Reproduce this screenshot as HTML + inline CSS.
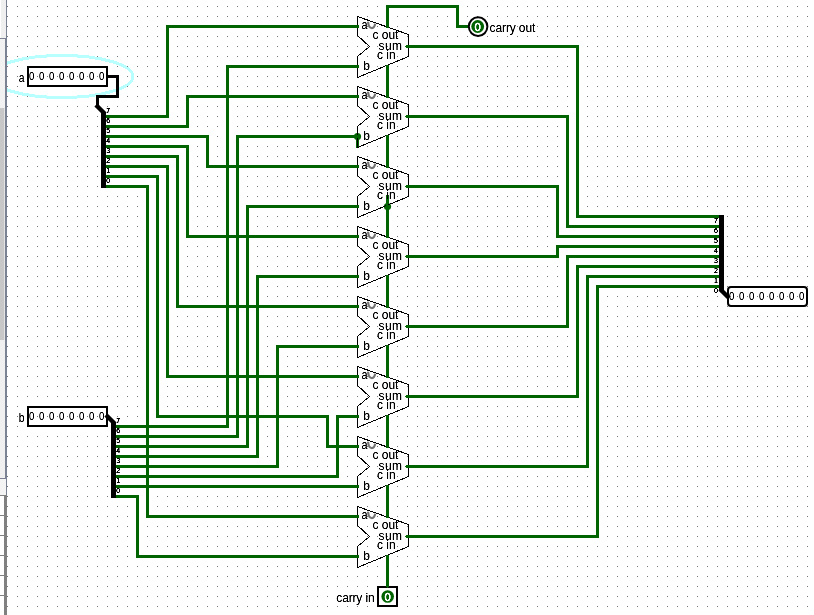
<!DOCTYPE html>
<html><head><meta charset="utf-8"><title>8-bit adder</title>
<style>html,body{margin:0;padding:0;background:#fff;}body{width:814px;height:615px;overflow:hidden;}svg{display:block;}text{font-family:"Liberation Sans",sans-serif;font-size:12px;fill:#000;}.s{font-size:7px;}.d{font-size:11.5px;}.w{font-size:11.5px;stroke:#fff;stroke-width:0.35px;}</style></head><body>
<svg width="814" height="615" viewBox="0 0 814 615">
<defs><pattern id="grid" x="0" y="0" width="10" height="10" patternUnits="userSpaceOnUse"><rect x="7" y="6" width="1" height="1" fill="#767676"/></pattern><filter id="tf" x="0" y="0" width="814" height="615" filterUnits="userSpaceOnUse" color-interpolation-filters="sRGB"><feComponentTransfer><feFuncA type="linear" slope="1.45" intercept="-0.1"/></feComponentTransfer></filter><filter id="ts" x="0" y="0" width="814" height="615" filterUnits="userSpaceOnUse" color-interpolation-filters="sRGB"><feComponentTransfer><feFuncA type="linear" slope="3" intercept="-0.3"/></feComponentTransfer></filter><clipPath id="cv"><rect x="7" y="0" width="807" height="615"/></clipPath></defs>
<rect width="814" height="615" fill="#fff"/>
<rect x="7" y="0" width="807" height="615" fill="url(#grid)" shape-rendering="crispEdges"/>
<g clip-path="url(#cv)"><ellipse cx="62" cy="76.5" rx="71" ry="21" fill="none" stroke="#b8ffff" stroke-width="3" shape-rendering="crispEdges"/></g>
<g shape-rendering="crispEdges">
<polyline points="107.5,116.5 167.5,116.5 167.5,26.5 357.5,26.5" fill="none" stroke="#006400" stroke-width="3" stroke-linecap="square" stroke-linejoin="miter"/>
<polyline points="107.5,126.5 187.5,126.5 187.5,96.5 357.5,96.5" fill="none" stroke="#006400" stroke-width="3" stroke-linecap="square" stroke-linejoin="miter"/>
<polyline points="107.5,136.5 207.5,136.5 207.5,166.5 357.5,166.5" fill="none" stroke="#006400" stroke-width="3" stroke-linecap="square" stroke-linejoin="miter"/>
<polyline points="107.5,146.5 187.5,146.5 187.5,236.5 357.5,236.5" fill="none" stroke="#006400" stroke-width="3" stroke-linecap="square" stroke-linejoin="miter"/>
<polyline points="107.5,156.5 177.5,156.5 177.5,306.5 357.5,306.5" fill="none" stroke="#006400" stroke-width="3" stroke-linecap="square" stroke-linejoin="miter"/>
<polyline points="107.5,166.5 167.5,166.5 167.5,376.5 357.5,376.5" fill="none" stroke="#006400" stroke-width="3" stroke-linecap="square" stroke-linejoin="miter"/>
<polyline points="107.5,176.5 157.5,176.5 157.5,416.5 327.5,416.5 327.5,446.5 357.5,446.5" fill="none" stroke="#006400" stroke-width="3" stroke-linecap="square" stroke-linejoin="miter"/>
<polyline points="107.5,186.5 147.5,186.5 147.5,516.5 357.5,516.5" fill="none" stroke="#006400" stroke-width="3" stroke-linecap="square" stroke-linejoin="miter"/>
<polyline points="117.5,426.5 227.5,426.5 227.5,66.5 357.5,66.5" fill="none" stroke="#006400" stroke-width="3" stroke-linecap="square" stroke-linejoin="miter"/>
<polyline points="117.5,436.5 237.5,436.5 237.5,136.5 357.5,136.5 357.5,146.5" fill="none" stroke="#006400" stroke-width="3" stroke-linecap="square" stroke-linejoin="miter"/>
<polyline points="117.5,446.5 247.5,446.5 247.5,206.5 357.5,206.5" fill="none" stroke="#006400" stroke-width="3" stroke-linecap="square" stroke-linejoin="miter"/>
<polyline points="117.5,456.5 257.5,456.5 257.5,276.5 357.5,276.5" fill="none" stroke="#006400" stroke-width="3" stroke-linecap="square" stroke-linejoin="miter"/>
<polyline points="117.5,466.5 277.5,466.5 277.5,346.5 357.5,346.5" fill="none" stroke="#006400" stroke-width="3" stroke-linecap="square" stroke-linejoin="miter"/>
<polyline points="117.5,476.5 337.5,476.5 337.5,416.5 357.5,416.5" fill="none" stroke="#006400" stroke-width="3" stroke-linecap="square" stroke-linejoin="miter"/>
<polyline points="117.5,486.5 357.5,486.5" fill="none" stroke="#006400" stroke-width="3" stroke-linecap="square" stroke-linejoin="miter"/>
<polyline points="117.5,496.5 137.5,496.5 137.5,556.5 357.5,556.5" fill="none" stroke="#006400" stroke-width="3" stroke-linecap="square" stroke-linejoin="miter"/>
<polyline points="387.5,26.5 387.5,6.5 457.5,6.5 457.5,26.5 467.5,26.5" fill="none" stroke="#006400" stroke-width="3" stroke-linecap="square" stroke-linejoin="miter"/>
<polyline points="387.5,196.5 387.5,206.5" fill="none" stroke="#006400" stroke-width="3" stroke-linecap="square" stroke-linejoin="miter"/>
<polyline points="387.5,556.5 387.5,586.5" fill="none" stroke="#006400" stroke-width="3" stroke-linecap="square" stroke-linejoin="miter"/>
<polyline points="407.5,46.5 577.5,46.5 577.5,216.5 717.5,216.5" fill="none" stroke="#006400" stroke-width="3" stroke-linecap="square" stroke-linejoin="miter"/>
<polyline points="407.5,116.5 567.5,116.5 567.5,226.5 717.5,226.5" fill="none" stroke="#006400" stroke-width="3" stroke-linecap="square" stroke-linejoin="miter"/>
<polyline points="407.5,186.5 557.5,186.5 557.5,236.5 717.5,236.5" fill="none" stroke="#006400" stroke-width="3" stroke-linecap="square" stroke-linejoin="miter"/>
<polyline points="407.5,256.5 557.5,256.5 557.5,246.5 717.5,246.5" fill="none" stroke="#006400" stroke-width="3" stroke-linecap="square" stroke-linejoin="miter"/>
<polyline points="407.5,326.5 567.5,326.5 567.5,256.5 717.5,256.5" fill="none" stroke="#006400" stroke-width="3" stroke-linecap="square" stroke-linejoin="miter"/>
<polyline points="407.5,396.5 577.5,396.5 577.5,266.5 717.5,266.5" fill="none" stroke="#006400" stroke-width="3" stroke-linecap="square" stroke-linejoin="miter"/>
<polyline points="407.5,466.5 587.5,466.5 587.5,276.5 717.5,276.5" fill="none" stroke="#006400" stroke-width="3" stroke-linecap="square" stroke-linejoin="miter"/>
<polyline points="407.5,536.5 597.5,536.5 597.5,286.5 717.5,286.5" fill="none" stroke="#006400" stroke-width="3" stroke-linecap="square" stroke-linejoin="miter"/>
<polyline points="387.5,66.5 387.5,96.5" fill="none" stroke="#006400" stroke-width="3" stroke-linecap="square" stroke-linejoin="miter"/>
<polyline points="387.5,136.5 387.5,166.5" fill="none" stroke="#006400" stroke-width="3" stroke-linecap="square" stroke-linejoin="miter"/>
<polyline points="387.5,206.5 387.5,236.5" fill="none" stroke="#006400" stroke-width="3" stroke-linecap="square" stroke-linejoin="miter"/>
<polyline points="387.5,276.5 387.5,306.5" fill="none" stroke="#006400" stroke-width="3" stroke-linecap="square" stroke-linejoin="miter"/>
<polyline points="387.5,346.5 387.5,376.5" fill="none" stroke="#006400" stroke-width="3" stroke-linecap="square" stroke-linejoin="miter"/>
<polyline points="387.5,416.5 387.5,446.5" fill="none" stroke="#006400" stroke-width="3" stroke-linecap="square" stroke-linejoin="miter"/>
<polyline points="387.5,486.5 387.5,516.5" fill="none" stroke="#006400" stroke-width="3" stroke-linecap="square" stroke-linejoin="miter"/>
<polyline points="107.5,76.5 117.5,76.5 117.5,96.5 97.5,96.5 97.5,106.5" fill="none" stroke="#000" stroke-width="3" stroke-linecap="square" stroke-linejoin="miter"/>
</g>
<circle cx="357.5" cy="136.5" r="3.6" fill="#006400"/>
<circle cx="387.5" cy="206.5" r="3.6" fill="#006400"/>
<g shape-rendering="crispEdges">
<polyline points="107.5,116.5 103.5,116.5" fill="none" stroke="#006400" stroke-width="3" stroke-linecap="butt" stroke-linejoin="miter"/>
<polyline points="107.5,126.5 103.5,126.5" fill="none" stroke="#006400" stroke-width="3" stroke-linecap="butt" stroke-linejoin="miter"/>
<polyline points="107.5,136.5 103.5,136.5" fill="none" stroke="#006400" stroke-width="3" stroke-linecap="butt" stroke-linejoin="miter"/>
<polyline points="107.5,146.5 103.5,146.5" fill="none" stroke="#006400" stroke-width="3" stroke-linecap="butt" stroke-linejoin="miter"/>
<polyline points="107.5,156.5 103.5,156.5" fill="none" stroke="#006400" stroke-width="3" stroke-linecap="butt" stroke-linejoin="miter"/>
<polyline points="107.5,166.5 103.5,166.5" fill="none" stroke="#006400" stroke-width="3" stroke-linecap="butt" stroke-linejoin="miter"/>
<polyline points="107.5,176.5 103.5,176.5" fill="none" stroke="#006400" stroke-width="3" stroke-linecap="butt" stroke-linejoin="miter"/>
<polyline points="107.5,186.5 103.5,186.5" fill="none" stroke="#006400" stroke-width="3" stroke-linecap="butt" stroke-linejoin="miter"/>
</g>
<line x1="97.5" y1="106.5" x2="103.5" y2="112.5" stroke="#000" stroke-width="4.4" stroke-linecap="square"/>
<rect x="101" y="112" width="5" height="76" fill="#000" shape-rendering="crispEdges"/>
<g shape-rendering="crispEdges">
<polyline points="117.5,426.5 113.5,426.5" fill="none" stroke="#006400" stroke-width="3" stroke-linecap="butt" stroke-linejoin="miter"/>
<polyline points="117.5,436.5 113.5,436.5" fill="none" stroke="#006400" stroke-width="3" stroke-linecap="butt" stroke-linejoin="miter"/>
<polyline points="117.5,446.5 113.5,446.5" fill="none" stroke="#006400" stroke-width="3" stroke-linecap="butt" stroke-linejoin="miter"/>
<polyline points="117.5,456.5 113.5,456.5" fill="none" stroke="#006400" stroke-width="3" stroke-linecap="butt" stroke-linejoin="miter"/>
<polyline points="117.5,466.5 113.5,466.5" fill="none" stroke="#006400" stroke-width="3" stroke-linecap="butt" stroke-linejoin="miter"/>
<polyline points="117.5,476.5 113.5,476.5" fill="none" stroke="#006400" stroke-width="3" stroke-linecap="butt" stroke-linejoin="miter"/>
<polyline points="117.5,486.5 113.5,486.5" fill="none" stroke="#006400" stroke-width="3" stroke-linecap="butt" stroke-linejoin="miter"/>
<polyline points="117.5,496.5 113.5,496.5" fill="none" stroke="#006400" stroke-width="3" stroke-linecap="butt" stroke-linejoin="miter"/>
</g>
<line x1="107.5" y1="416.5" x2="113.5" y2="422.5" stroke="#000" stroke-width="4.4" stroke-linecap="square"/>
<rect x="111" y="422" width="5" height="76" fill="#000" shape-rendering="crispEdges"/>
<g shape-rendering="crispEdges">
<polyline points="717.5,216.5 721.5,216.5" fill="none" stroke="#006400" stroke-width="3" stroke-linecap="butt" stroke-linejoin="miter"/>
<polyline points="717.5,226.5 721.5,226.5" fill="none" stroke="#006400" stroke-width="3" stroke-linecap="butt" stroke-linejoin="miter"/>
<polyline points="717.5,236.5 721.5,236.5" fill="none" stroke="#006400" stroke-width="3" stroke-linecap="butt" stroke-linejoin="miter"/>
<polyline points="717.5,246.5 721.5,246.5" fill="none" stroke="#006400" stroke-width="3" stroke-linecap="butt" stroke-linejoin="miter"/>
<polyline points="717.5,256.5 721.5,256.5" fill="none" stroke="#006400" stroke-width="3" stroke-linecap="butt" stroke-linejoin="miter"/>
<polyline points="717.5,266.5 721.5,266.5" fill="none" stroke="#006400" stroke-width="3" stroke-linecap="butt" stroke-linejoin="miter"/>
<polyline points="717.5,276.5 721.5,276.5" fill="none" stroke="#006400" stroke-width="3" stroke-linecap="butt" stroke-linejoin="miter"/>
<polyline points="717.5,286.5 721.5,286.5" fill="none" stroke="#006400" stroke-width="3" stroke-linecap="butt" stroke-linejoin="miter"/>
</g>
<line x1="727.5" y1="296.5" x2="721.5" y2="290.5" stroke="#000" stroke-width="4.4" stroke-linecap="square"/>
<rect x="719" y="215" width="5" height="76" fill="#000" shape-rendering="crispEdges"/>
<rect x="28" y="67" width="79" height="19" fill="none" stroke="#000" stroke-width="2" shape-rendering="crispEdges"/>
<rect x="28" y="407" width="79" height="19" fill="none" stroke="#000" stroke-width="2" shape-rendering="crispEdges"/>
<rect x="728" y="287" width="79" height="19" rx="3" ry="3" fill="none" stroke="#000" stroke-width="2"/>
<circle cx="478.1" cy="26.6" r="9.3" fill="none" stroke="#000" stroke-width="2"/>
<circle cx="477.7" cy="26.5" r="6.4" fill="#006400"/>
<rect x="378" y="587" width="19" height="19" fill="none" stroke="#000" stroke-width="2" shape-rendering="crispEdges"/>
<circle cx="387.7" cy="596.5" r="6.3" fill="#006400"/>
<path d="M386,585 h3 v2 h-1 v1 h-1 v-1 h-1 Z" fill="#006400" shape-rendering="crispEdges"/>
<g transform="translate(357,16)">
<path d="M0.5,0.5 L51.5,18.5 L51.5,40.5 L0.5,61.5 L0.5,40.5 L12.5,30.5 L0.5,19.5 Z" fill="none" stroke="#000" stroke-width="1" shape-rendering="crispEdges"/>
<path d="M11.1,5.8 C11.6,13.6 17,13.9 18.2,7.6" fill="none" stroke="#747474" stroke-width="2.2"/>
<rect x="48" y="30" width="1" height="1" fill="#006400" shape-rendering="crispEdges"/>
<rect x="-1" y="9" width="3" height="3" fill="#006400" shape-rendering="crispEdges"/>
<rect x="-1" y="49" width="3" height="3" fill="#006400" shape-rendering="crispEdges"/>
<rect x="29" y="9" width="3" height="3" fill="#006400" shape-rendering="crispEdges"/>
<rect x="29" y="49" width="3" height="3" fill="#006400" shape-rendering="crispEdges"/>
<rect x="49" y="29" width="3" height="3" fill="#006400" shape-rendering="crispEdges"/>
</g>
<g transform="translate(357,86)">
<path d="M0.5,0.5 L51.5,18.5 L51.5,40.5 L0.5,61.5 L0.5,40.5 L12.5,30.5 L0.5,19.5 Z" fill="none" stroke="#000" stroke-width="1" shape-rendering="crispEdges"/>
<path d="M11.1,5.8 C11.6,13.6 17,13.9 18.2,7.6" fill="none" stroke="#747474" stroke-width="2.2"/>
<rect x="48" y="30" width="1" height="1" fill="#006400" shape-rendering="crispEdges"/>
<rect x="-1" y="9" width="3" height="3" fill="#006400" shape-rendering="crispEdges"/>
<rect x="-1" y="49" width="3" height="3" fill="#006400" shape-rendering="crispEdges"/>
<rect x="29" y="9" width="3" height="3" fill="#006400" shape-rendering="crispEdges"/>
<rect x="29" y="49" width="3" height="3" fill="#006400" shape-rendering="crispEdges"/>
<rect x="49" y="29" width="3" height="3" fill="#006400" shape-rendering="crispEdges"/>
</g>
<g transform="translate(357,156)">
<path d="M0.5,0.5 L51.5,18.5 L51.5,40.5 L0.5,61.5 L0.5,40.5 L12.5,30.5 L0.5,19.5 Z" fill="none" stroke="#000" stroke-width="1" shape-rendering="crispEdges"/>
<path d="M11.1,5.8 C11.6,13.6 17,13.9 18.2,7.6" fill="none" stroke="#747474" stroke-width="2.2"/>
<rect x="48" y="30" width="1" height="1" fill="#006400" shape-rendering="crispEdges"/>
<rect x="-1" y="9" width="3" height="3" fill="#006400" shape-rendering="crispEdges"/>
<rect x="-1" y="49" width="3" height="3" fill="#006400" shape-rendering="crispEdges"/>
<rect x="29" y="9" width="3" height="3" fill="#006400" shape-rendering="crispEdges"/>
<rect x="29" y="49" width="3" height="3" fill="#006400" shape-rendering="crispEdges"/>
<rect x="49" y="29" width="3" height="3" fill="#006400" shape-rendering="crispEdges"/>
</g>
<g transform="translate(357,226)">
<path d="M0.5,0.5 L51.5,18.5 L51.5,40.5 L0.5,61.5 L0.5,40.5 L12.5,30.5 L0.5,19.5 Z" fill="none" stroke="#000" stroke-width="1" shape-rendering="crispEdges"/>
<path d="M11.1,5.8 C11.6,13.6 17,13.9 18.2,7.6" fill="none" stroke="#747474" stroke-width="2.2"/>
<rect x="48" y="30" width="1" height="1" fill="#006400" shape-rendering="crispEdges"/>
<rect x="-1" y="9" width="3" height="3" fill="#006400" shape-rendering="crispEdges"/>
<rect x="-1" y="49" width="3" height="3" fill="#006400" shape-rendering="crispEdges"/>
<rect x="29" y="9" width="3" height="3" fill="#006400" shape-rendering="crispEdges"/>
<rect x="29" y="49" width="3" height="3" fill="#006400" shape-rendering="crispEdges"/>
<rect x="49" y="29" width="3" height="3" fill="#006400" shape-rendering="crispEdges"/>
</g>
<g transform="translate(357,296)">
<path d="M0.5,0.5 L51.5,18.5 L51.5,40.5 L0.5,61.5 L0.5,40.5 L12.5,30.5 L0.5,19.5 Z" fill="none" stroke="#000" stroke-width="1" shape-rendering="crispEdges"/>
<path d="M11.1,5.8 C11.6,13.6 17,13.9 18.2,7.6" fill="none" stroke="#747474" stroke-width="2.2"/>
<rect x="48" y="30" width="1" height="1" fill="#006400" shape-rendering="crispEdges"/>
<rect x="-1" y="9" width="3" height="3" fill="#006400" shape-rendering="crispEdges"/>
<rect x="-1" y="49" width="3" height="3" fill="#006400" shape-rendering="crispEdges"/>
<rect x="29" y="9" width="3" height="3" fill="#006400" shape-rendering="crispEdges"/>
<rect x="29" y="49" width="3" height="3" fill="#006400" shape-rendering="crispEdges"/>
<rect x="49" y="29" width="3" height="3" fill="#006400" shape-rendering="crispEdges"/>
</g>
<g transform="translate(357,366)">
<path d="M0.5,0.5 L51.5,18.5 L51.5,40.5 L0.5,61.5 L0.5,40.5 L12.5,30.5 L0.5,19.5 Z" fill="none" stroke="#000" stroke-width="1" shape-rendering="crispEdges"/>
<path d="M11.1,5.8 C11.6,13.6 17,13.9 18.2,7.6" fill="none" stroke="#747474" stroke-width="2.2"/>
<rect x="48" y="30" width="1" height="1" fill="#006400" shape-rendering="crispEdges"/>
<rect x="-1" y="9" width="3" height="3" fill="#006400" shape-rendering="crispEdges"/>
<rect x="-1" y="49" width="3" height="3" fill="#006400" shape-rendering="crispEdges"/>
<rect x="29" y="9" width="3" height="3" fill="#006400" shape-rendering="crispEdges"/>
<rect x="29" y="49" width="3" height="3" fill="#006400" shape-rendering="crispEdges"/>
<rect x="49" y="29" width="3" height="3" fill="#006400" shape-rendering="crispEdges"/>
</g>
<g transform="translate(357,436)">
<path d="M0.5,0.5 L51.5,18.5 L51.5,40.5 L0.5,61.5 L0.5,40.5 L12.5,30.5 L0.5,19.5 Z" fill="none" stroke="#000" stroke-width="1" shape-rendering="crispEdges"/>
<path d="M11.1,5.8 C11.6,13.6 17,13.9 18.2,7.6" fill="none" stroke="#747474" stroke-width="2.2"/>
<rect x="48" y="30" width="1" height="1" fill="#006400" shape-rendering="crispEdges"/>
<rect x="-1" y="9" width="3" height="3" fill="#006400" shape-rendering="crispEdges"/>
<rect x="-1" y="49" width="3" height="3" fill="#006400" shape-rendering="crispEdges"/>
<rect x="29" y="9" width="3" height="3" fill="#006400" shape-rendering="crispEdges"/>
<rect x="29" y="49" width="3" height="3" fill="#006400" shape-rendering="crispEdges"/>
<rect x="49" y="29" width="3" height="3" fill="#006400" shape-rendering="crispEdges"/>
</g>
<g transform="translate(357,506)">
<path d="M0.5,0.5 L51.5,18.5 L51.5,40.5 L0.5,61.5 L0.5,40.5 L12.5,30.5 L0.5,19.5 Z" fill="none" stroke="#000" stroke-width="1" shape-rendering="crispEdges"/>
<path d="M11.1,5.8 C11.6,13.6 17,13.9 18.2,7.6" fill="none" stroke="#747474" stroke-width="2.2"/>
<rect x="48" y="30" width="1" height="1" fill="#006400" shape-rendering="crispEdges"/>
<rect x="-1" y="9" width="3" height="3" fill="#006400" shape-rendering="crispEdges"/>
<rect x="-1" y="49" width="3" height="3" fill="#006400" shape-rendering="crispEdges"/>
<rect x="29" y="9" width="3" height="3" fill="#006400" shape-rendering="crispEdges"/>
<rect x="29" y="49" width="3" height="3" fill="#006400" shape-rendering="crispEdges"/>
<rect x="49" y="29" width="3" height="3" fill="#006400" shape-rendering="crispEdges"/>
</g>
<g filter="url(#tf)">
<text transform="translate(31.6 80) scale(0.84 1)" class="d" text-anchor="middle">0</text>
<text transform="translate(41.6 80) scale(0.84 1)" class="d" text-anchor="middle">0</text>
<text transform="translate(51.6 80) scale(0.84 1)" class="d" text-anchor="middle">0</text>
<text transform="translate(61.6 80) scale(0.84 1)" class="d" text-anchor="middle">0</text>
<text transform="translate(71.6 80) scale(0.84 1)" class="d" text-anchor="middle">0</text>
<text transform="translate(81.6 80) scale(0.84 1)" class="d" text-anchor="middle">0</text>
<text transform="translate(91.6 80) scale(0.84 1)" class="d" text-anchor="middle">0</text>
<text transform="translate(101.6 80) scale(0.84 1)" class="d" text-anchor="middle">0</text>
<text transform="translate(24.4 81.5) scale(0.86 1)" text-anchor="end">a</text>
<text transform="translate(31.6 420) scale(0.84 1)" class="d" text-anchor="middle">0</text>
<text transform="translate(41.6 420) scale(0.84 1)" class="d" text-anchor="middle">0</text>
<text transform="translate(51.6 420) scale(0.84 1)" class="d" text-anchor="middle">0</text>
<text transform="translate(61.6 420) scale(0.84 1)" class="d" text-anchor="middle">0</text>
<text transform="translate(71.6 420) scale(0.84 1)" class="d" text-anchor="middle">0</text>
<text transform="translate(81.6 420) scale(0.84 1)" class="d" text-anchor="middle">0</text>
<text transform="translate(91.6 420) scale(0.84 1)" class="d" text-anchor="middle">0</text>
<text transform="translate(101.6 420) scale(0.84 1)" class="d" text-anchor="middle">0</text>
<text transform="translate(24.4 421.5) scale(0.86 1)" text-anchor="end">b</text>
<text transform="translate(731.6 300) scale(0.84 1)" class="d" text-anchor="middle">0</text>
<text transform="translate(741.6 300) scale(0.84 1)" class="d" text-anchor="middle">0</text>
<text transform="translate(751.6 300) scale(0.84 1)" class="d" text-anchor="middle">0</text>
<text transform="translate(761.6 300) scale(0.84 1)" class="d" text-anchor="middle">0</text>
<text transform="translate(771.6 300) scale(0.84 1)" class="d" text-anchor="middle">0</text>
<text transform="translate(781.6 300) scale(0.84 1)" class="d" text-anchor="middle">0</text>
<text transform="translate(791.6 300) scale(0.84 1)" class="d" text-anchor="middle">0</text>
<text transform="translate(801.6 300) scale(0.84 1)" class="d" text-anchor="middle">0</text>
<text transform="translate(477.5 30.7) scale(0.98 1)" class="w" text-anchor="middle" style="fill:#fff">0</text>
<text x="489.6" y="31.5" letter-spacing="-0.12">carry out</text>
<text transform="translate(387.5 600.7) scale(0.98 1)" class="w" text-anchor="middle" style="fill:#fff">0</text>
<text x="374.5" y="601.5" text-anchor="end" letter-spacing="-0.14">carry in</text>
<text transform="translate(361.6 29) scale(0.9 1)">a</text>
<text x="372.4" y="38.5">c out</text>
<text x="378.4" y="49.5" letter-spacing="0.5">sum</text>
<text x="377" y="59">c in</text>
<text x="363.2" y="69.5">b</text>
<text transform="translate(361.6 99) scale(0.9 1)">a</text>
<text x="372.4" y="108.5">c out</text>
<text x="378.4" y="119.5" letter-spacing="0.5">sum</text>
<text x="377" y="129">c in</text>
<text x="363.2" y="139.5">b</text>
<text transform="translate(361.6 169) scale(0.9 1)">a</text>
<text x="372.4" y="178.5">c out</text>
<text x="378.4" y="189.5" letter-spacing="0.5">sum</text>
<text x="377" y="199">c in</text>
<text x="363.2" y="209.5">b</text>
<text transform="translate(361.6 239) scale(0.9 1)">a</text>
<text x="372.4" y="248.5">c out</text>
<text x="378.4" y="259.5" letter-spacing="0.5">sum</text>
<text x="377" y="269">c in</text>
<text x="363.2" y="279.5">b</text>
<text transform="translate(361.6 309) scale(0.9 1)">a</text>
<text x="372.4" y="318.5">c out</text>
<text x="378.4" y="329.5" letter-spacing="0.5">sum</text>
<text x="377" y="339">c in</text>
<text x="363.2" y="349.5">b</text>
<text transform="translate(361.6 379) scale(0.9 1)">a</text>
<text x="372.4" y="388.5">c out</text>
<text x="378.4" y="399.5" letter-spacing="0.5">sum</text>
<text x="377" y="409">c in</text>
<text x="363.2" y="419.5">b</text>
<text transform="translate(361.6 449) scale(0.9 1)">a</text>
<text x="372.4" y="458.5">c out</text>
<text x="378.4" y="469.5" letter-spacing="0.5">sum</text>
<text x="377" y="479">c in</text>
<text x="363.2" y="489.5">b</text>
<text transform="translate(361.6 519) scale(0.9 1)">a</text>
<text x="372.4" y="528.5">c out</text>
<text x="378.4" y="539.5" letter-spacing="0.5">sum</text>
<text x="377" y="549">c in</text>
<text x="363.2" y="559.5">b</text>
</g>
<g filter="url(#ts)">
<text x="106.2" y="113" class="s">7</text>
<text x="106.2" y="123" class="s">6</text>
<text x="106.2" y="133" class="s">5</text>
<text x="106.2" y="143" class="s">4</text>
<text x="106.2" y="153" class="s">3</text>
<text x="106.2" y="163" class="s">2</text>
<text x="106.2" y="173" class="s">1</text>
<text x="106.2" y="183" class="s">0</text>
<text x="116.2" y="423" class="s">7</text>
<text x="116.2" y="433" class="s">6</text>
<text x="116.2" y="443" class="s">5</text>
<text x="116.2" y="453" class="s">4</text>
<text x="116.2" y="463" class="s">3</text>
<text x="116.2" y="473" class="s">2</text>
<text x="116.2" y="483" class="s">1</text>
<text x="116.2" y="493" class="s">0</text>
<text x="718" y="223" class="s" text-anchor="end">7</text>
<text x="718" y="233" class="s" text-anchor="end">6</text>
<text x="718" y="243" class="s" text-anchor="end">5</text>
<text x="718" y="253" class="s" text-anchor="end">4</text>
<text x="718" y="263" class="s" text-anchor="end">3</text>
<text x="718" y="273" class="s" text-anchor="end">2</text>
<text x="718" y="283" class="s" text-anchor="end">1</text>
<text x="718" y="293" class="s" text-anchor="end">0</text>
</g>
<g shape-rendering="crispEdges">
<rect x="0" y="0" width="7" height="615" fill="#f0f0f0"/>
<rect x="0" y="0" width="1" height="38" fill="#fff"/>
<rect x="6" y="0" width="1" height="38" fill="#7a8294"/>
<rect x="0" y="38" width="7" height="1" fill="#7a8294"/>
<rect x="5" y="39" width="2" height="439" fill="#7a8294"/>
<rect x="0" y="39" width="5" height="69" fill="#f2f2f2"/>
<rect x="0" y="108" width="4" height="232" fill="#c8c8c8"/>
<rect x="4" y="108" width="1" height="232" fill="#e4e4e4"/>
<rect x="0" y="340" width="5" height="138" fill="#f0f0f0"/>
<rect x="0" y="478" width="7" height="1" fill="#7a8294"/>
<rect x="0" y="479" width="6" height="16" fill="#f4f4f4"/>
<rect x="6" y="479" width="1" height="16" fill="#7a8294"/>
<rect x="0" y="495" width="7" height="1" fill="#808080"/>
<rect x="0" y="496" width="4" height="119" fill="#fff"/>
<rect x="4" y="496" width="3" height="119" fill="#808080"/>
<rect x="0" y="515" width="4" height="1" fill="#808080"/>
<rect x="0" y="535" width="4" height="1" fill="#808080"/>
<rect x="0" y="555" width="4" height="1" fill="#808080"/>
<rect x="0" y="575" width="4" height="1" fill="#808080"/>
<rect x="0" y="595" width="4" height="1" fill="#808080"/>
</g>
</svg></body></html>
